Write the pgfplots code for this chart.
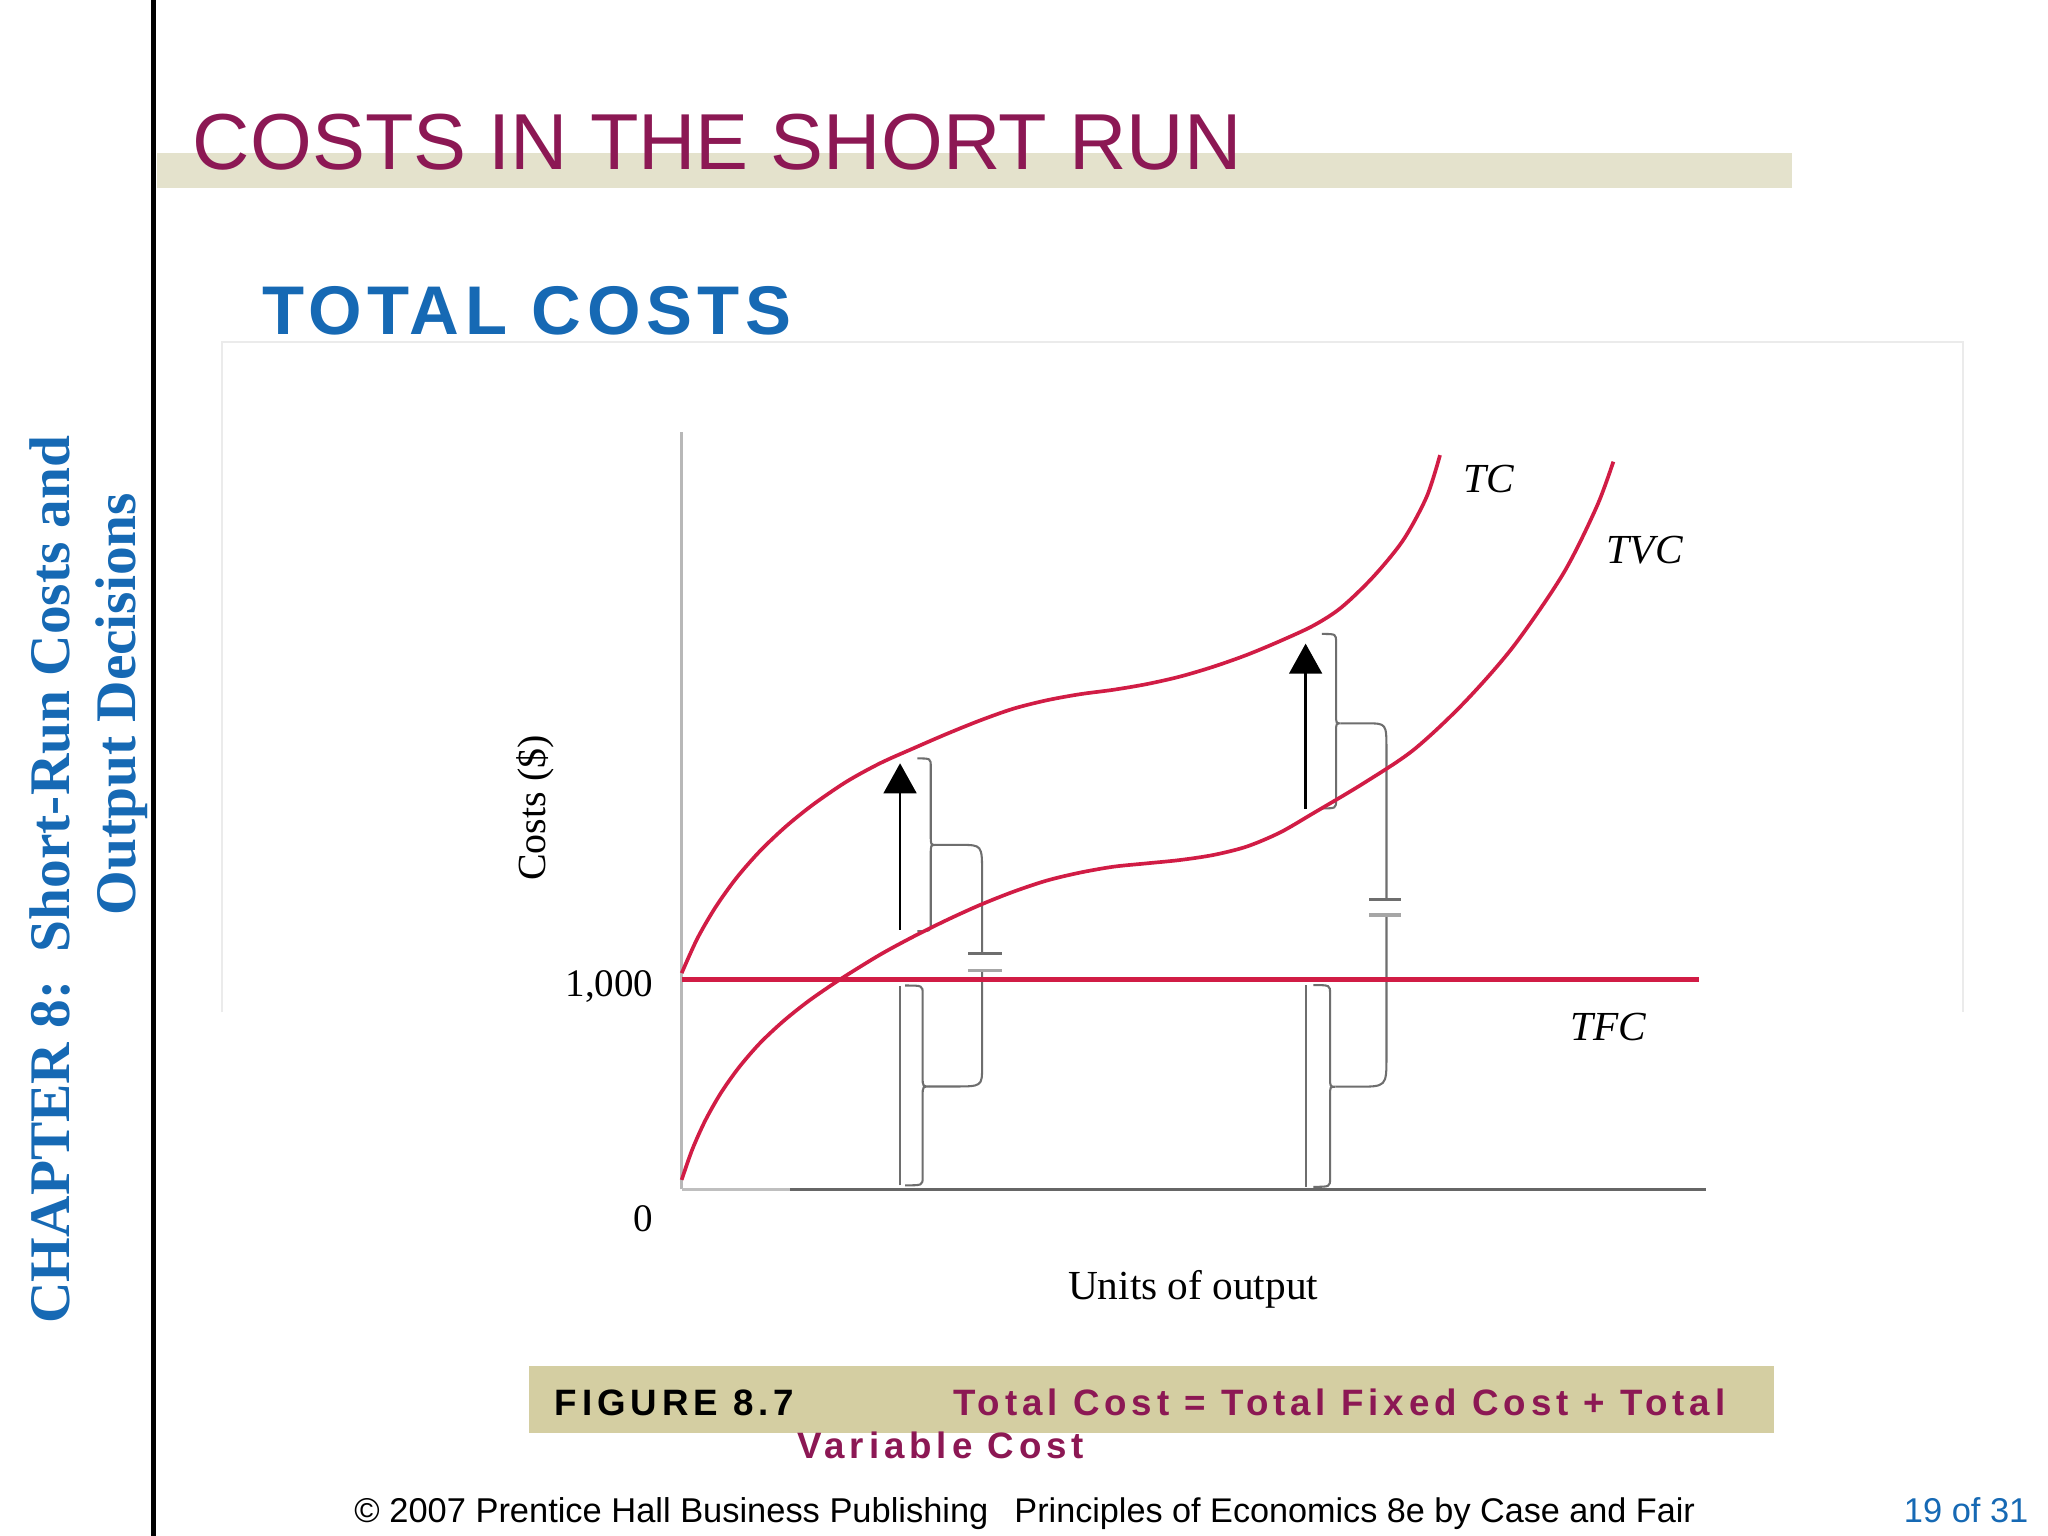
\documentclass[border=0pt]{standalone}
\usepackage{fontspec}
\setmainfont{Liberation Serif}
\newfontfamily\sans{Liberation Sans}
\newfontfamily\sanscap[LetterSpace=13.5]{Liberation Sans}
\newfontfamily\sanshead[LetterSpace=8]{Liberation Sans}
\usepackage{pgfplots}
\pgfplotsset{compat=1.18}
\usetikzlibrary{arrows.meta}

\definecolor{maroon}{HTML}{8C1854}
\definecolor{pblue}{HTML}{1669B4}
\definecolor{band}{HTML}{E4E2CC}
\definecolor{capbox}{HTML}{D4CEA2}
\definecolor{costred}{HTML}{D11C45}
\definecolor{brk}{HTML}{6E6E6E}

% curves (x: units of output, y: dollars)
\pgfplotstableread{
x y
0 1030
12 1195
26 1345
42 1484
60 1612
80 1730
101 1835
126.4 1943
151.9 2030
177.4 2101
203 2170
228.5 2234
254 2290
279.5 2330
305 2359
330.5 2380
356 2407
381.6 2443
407.1 2490
432.6 2546
458.1 2612
483.7 2686
505 2772
529.6 2919
552.5 3094
570.4 3300
580.6 3498
}\tcdata
\pgfplotstableread{
x y
0 45
8 188
18 327
30 459
44 582
60 697
78 802
98 901
122.5 1005
151.9 1118
177.4 1204
203 1283
228.5 1355
254 1418
279.5 1471
305 1509
330.5 1537
356 1553
381.6 1569
407.1 1593
432.6 1633
458.1 1700
483.6 1792
521.9 1934
560.2 2093
598.5 2315
636.7 2586
675.1 2935
700.6 3253
713.3 3467
}\tvcdata

\begin{document}
\begin{tikzpicture}
\fill[white] (0,0) rectangle (15.68,11.76);
\path[use as bounding box] (0,0) rectangle (15.68,11.76);

% slide frame
\draw[line width=1.1pt] (1.175,0) -- (1.175,11.76);
\draw[black!8, line width=0.5pt] (1.70,4.01) -- (1.70,9.14) -- (15.03,9.14) -- (15.03,4.01);
\fill[band] (1.20,10.32) rectangle (13.72,10.59);
\node[anchor=base west, inner sep=0, text=maroon, font=\sans\fontsize{17.3}{20}\selectfont] at (1.47,10.464) {COSTS IN THE SHORT RUN};
\node[anchor=base west, inner sep=0, text=pblue, font=\sanshead\bfseries\fontsize{15}{18}\selectfont] at (2.0,9.195) {TOTAL COSTS};

\node[rotate=90, anchor=base west, inner sep=0, text=pblue, font=\bfseries\fontsize{12.5}{14}\selectfont] at (0.53,1.62) {CHAPTER 8:\ \ Short-Run Costs and};
\node[rotate=90, anchor=base west, inner sep=0, text=pblue, font=\bfseries\fontsize{12.5}{14}\selectfont] at (1.036,4.745) {Output Decisions};

\begin{axis}[
  at={(5.219cm,2.654cm)}, anchor=south west,
  scale only axis, width=7.841cm, height=5.798cm,
  xmin=0, xmax=784.1, ymin=0, ymax=3608,
  axis lines=left, axis line style={-},
  x axis line style={black!60, line width=0.6pt},
  y axis line style={black!28, line width=0.7pt},
  xtick=\empty, ytick=\empty,
  clip=false,
]
\draw[black!25, line width=0.7pt] (axis cs:0,0) -- (axis cs:83,0);

% braces and connectors
\begin{scope}[brk, line width=0.45pt]
\draw (axis cs:167.2,19) -- (axis cs:167.2,971);
\draw (axis cs:180.5,2053) .. controls (axis cs:190.7,2053) .. (axis cs:190.7,2013) -- (axis cs:190.7,1686)
  .. controls (axis cs:190.7,1641) .. (axis cs:194.5,1641) .. controls (axis cs:190.7,1641) .. (axis cs:190.7,1596)
  -- (axis cs:190.7,1270) .. controls (axis cs:190.7,1230) .. (axis cs:180.5,1230);
\draw (axis cs:171.1,971) .. controls (axis cs:184.5,971) .. (axis cs:184.5,931) -- (axis cs:184.5,535)
  .. controls (axis cs:184.5,490) .. (axis cs:190,490) .. controls (axis cs:184.5,490) .. (axis cs:184.5,445)
  -- (axis cs:184.5,59) .. controls (axis cs:184.5,19) .. (axis cs:171.1,19);
\draw (axis cs:194.5,1641) -- (axis cs:213,1641) .. controls (axis cs:230,1641) .. (axis cs:230,1506) -- (axis cs:230,1124);
\draw (axis cs:230,1042) -- (axis cs:230,584) .. controls (axis cs:230,490) .. (axis cs:208,490) -- (axis cs:190,490);
\draw[line width=0.6pt] (axis cs:219.5,1124) -- (axis cs:245,1124);
\draw[black!35, line width=0.8pt] (axis cs:219.5,1042) -- (axis cs:245,1042);

\draw (axis cs:477.7,12) -- (axis cs:477.7,973);
\draw (axis cs:490.1,2646) .. controls (axis cs:501,2646) .. (axis cs:501,2606) -- (axis cs:501,2265)
  .. controls (axis cs:501,2220) .. (axis cs:504.5,2220) .. controls (axis cs:501,2220) .. (axis cs:501,2175)
  -- (axis cs:501,1855) .. controls (axis cs:501,1815) .. (axis cs:490.1,1815);
\draw (axis cs:483.7,973) .. controls (axis cs:496.4,973) .. (axis cs:496.4,933) -- (axis cs:496.4,534)
  .. controls (axis cs:496.4,489) .. (axis cs:500.5,489) .. controls (axis cs:496.4,489) .. (axis cs:496.4,444)
  -- (axis cs:496.4,52) .. controls (axis cs:496.4,12) .. (axis cs:483.7,12);
\draw (axis cs:504.5,2220) -- (axis cs:524.5,2220) .. controls (axis cs:539.6,2220) .. (axis cs:539.6,2093) -- (axis cs:539.6,1381);
\draw (axis cs:539.6,1306) -- (axis cs:539.6,632) .. controls (axis cs:539.6,489) .. (axis cs:516.7,489) -- (axis cs:500.5,489);
\draw[line width=0.6pt] (axis cs:526.5,1381) -- (axis cs:550.8,1381);
\draw[black!35, line width=0.8pt] (axis cs:526.5,1306) -- (axis cs:550.8,1306);
\end{scope}

\addplot[costred, line width=1pt] coordinates {(0,1000) (779,1000)};
\addplot[costred, line width=0.8pt, smooth] table[x=x, y=y] {\tcdata};
\addplot[costred, line width=0.8pt, smooth] table[x=x, y=y] {\tvcdata};

% fixed-cost arrows
\draw[-{Triangle[length=0.23cm, width=0.25cm]}, line width=0.6pt] (axis cs:167.2,1236) -- (axis cs:167.2,2030);
\draw[-{Triangle[length=0.23cm, width=0.25cm]}, line width=0.6pt] (axis cs:477.7,1812) -- (axis cs:477.7,2600);
\end{axis}

% axis texts
\node[rotate=90, anchor=base west, inner sep=0, font=\fontsize{8.7}{11}\selectfont] at (4.177,5.01) {Costs (\$)};
\node[anchor=base east, inner sep=0, font=\fontsize{8.5}{10}\selectfont] at (5.01,4.13) {1,000};
\node[anchor=base east, inner sep=0, font=\fontsize{8.5}{10}\selectfont] at (5.01,2.33) {0};
\node[anchor=base west, inner sep=0, font=\fontsize{9}{11}\selectfont] at (8.17,1.807) {Units of output};
\node[anchor=base west, inner sep=0, font=\itshape\fontsize{9}{11}\selectfont] at (11.2,7.988) {TC};
\node[anchor=base west, inner sep=0, font=\itshape\fontsize{9}{11}\selectfont] at (12.296,7.447) {TVC};
\node[anchor=base west, inner sep=0, font=\itshape\fontsize{9}{11}\selectfont] at (12.016,3.797) {TFC};

% caption
\fill[capbox] (4.05,0.79) rectangle (13.58,1.30);
\node[anchor=base west, inner sep=0, font=\sanscap\bfseries\fontsize{8}{10}\selectfont] at (4.24,0.926) {FIGURE 8.7};
\node[anchor=base west, inner sep=0, text=maroon, font=\sanscap\bfseries\fontsize{8}{10}\selectfont] at (7.29,0.926) {Total Cost = Total Fixed Cost + Total};
\node[anchor=base west, inner sep=0, text=maroon, font=\sanscap\bfseries\fontsize{8}{10}\selectfont] at (6.095,0.597) {Variable Cost};

% footer
\node[anchor=base west, inner sep=0, font=\sans\fontsize{7.5}{9}\selectfont] at (2.707,0.10) {© 2007 Prentice Hall Business Publishing};
\node[anchor=base west, inner sep=0, font=\sans\fontsize{7.45}{9}\selectfont] at (7.76,0.10) {Principles of Economics 8e by Case and Fair};
\node[anchor=base west, inner sep=0, text=pblue, font=\sans\fontsize{7.5}{9}\selectfont] at (14.57,0.10) {19 of 31};
\end{tikzpicture}
\end{document}
